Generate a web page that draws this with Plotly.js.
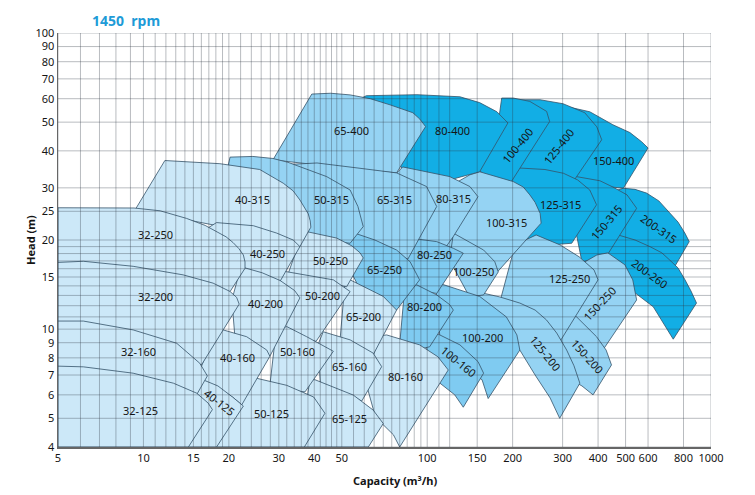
<!DOCTYPE html>
<html>
<head>
<meta charset="utf-8">
<script src="https://cdn.plot.ly/plotly-3.0.1.min.js"></script>
<style>
  body { margin: 0; background: #fff; }
  #chart { width: 755px; height: 495px; }
</style>
</head>
<body>
<div id="chart"></div>
<script>
// Pump ranges at 1450 rpm, outline points as [capacity m3/h, head m]
const r200_315 = [[448,29.1],[491,29.9],[540,29.65],[593,28.8],[655,27.1],[716,24.6],[765,23.0],[809,21.1],[838,19.75],[746,16.3],[660,17.8],[562,19.25],[459,20.0]];
const r200_260 = [[448,21.1],[471,20.8],[540,20.0],[609,19.0],[671,18.1],[716,17.1],[765,16.1],[809,14.7],[850,13.45],[889,12.25],[736,9.25],[626,11.9],[532,13.4],[478,14.1],[440,15.85],[427,18.5]];
const r150_400 = [[282,54.2],[301,56.8],[374,54.2],[451,49.0],[518,46.1],[547,44.2],[570,42.9],[600,40.9],[491,29.9],[406,30.5],[318,31.9]];
const r150_315 = [[306,32.4],[326,32.9],[406,31.7],[451,30.2],[506,28.4],[532,26.6],[547,25.6],[435,18.04],[406,17.4],[351,16.87]];
const r150_250 = [[345,16.5],[396,17.8],[433,18.1],[497,16.5],[530,14.67],[547,12.55],[420,8.62],[374,8.85],[318,9.2]];
const r150_200 = [[318,11.45],[336,11.0],[395,9.43],[427,8.5],[446,7.57],[384,6.0],[351,6.43],[326,6.69],[306,8.19],[293,9.56],[306,11.17]];
const r125_400 = [[187,57.7],[204,59.5],[250,59.5],[301,57.7],[359,53.8],[396,48.2],[412,43.6],[327,31.5],[260,32.4],[204,30.7]];
const r125_315 = [[196,33.2],[212,35.0],[260,34.6],[302,33.6],[339,31.9],[374,29.5],[395,26.3],[323,19.5],[271,19.25],[221,20.3],[204,27.3]];
const r125_250 = [[204,19.25],[242,20.8],[294,19.25],[343,17.55],[387,15.85],[400,14.67],[296,9.2],[260,10.35],[212,11.8],[180,12.27]];
const r125_200 = [[151,13.35],[158,13.2],[180,12.85],[212,12.25],[240,11.6],[263,10.75],[286,9.7],[310,8.5],[329,7.52],[345,6.57],[293,5.0],[271,5.86],[240,7.0],[212,8.5],[180,9.94],[153,11.6]];
const r100_400 = [[179,51.8],[183,60.3],[201,60.3],[230,58.75],[263.5,54.35],[270,50.25],[198,31.5],[166,32.2],[151,34.6]];
const r100_315 = [[128,31.45],[141.4,33.2],[153,34.0],[201,31.5],[218,30.2],[230,28.4],[240,26.8],[250,24.6],[252,22.8],[177,15.6],[173,15.25],[141,17.1],[111,18.5],[125,27.3]];
const r100_250 = [[123.6,21.1],[158,18.5],[173,16.9],[178,15.6],[158,13.05],[141,12.85],[120,17.1]];
const r100_200 = [[107,14.4],[111,14.25],[153,12.9],[190,11.0],[207,9.56],[212,8.5],[164,5.83],[156,6.75],[147,7.0],[111,9.2]];
const r100_160 = [[98,9.94],[102,9.94],[130.4,8.85],[151,7.77],[158,7.1],[134,5.45],[125,6.0],[111,6.57],[102,7.0]];
const r80_400 = [[57,59.5],[61,61.4],[92,61.9],[130.4,60.9],[153,58.2],[176,54.2],[192.5,49.7],[153,34.0],[120,31.9],[82,34.6]];
const r80_315 = [[77,33.2],[82,35.3],[120,32.75],[141.4,30.3],[151,28.0],[123.6,20.55],[115.5,18.75],[87,19.7],[79,23.4]];
const r80_250 = [[80,20.0],[87,20.3],[108,19.75],[123.6,18.75],[134,18.05],[108,13.2],[94,13.5],[87,14.67]];
const r80_200 = [[83.5,14.1],[92,14.1],[108,13.05],[120,12.1],[123.6,11.6],[102,8.72],[94,8.56],[80,8.9]];
const r80_160 = [[68,9.5],[72,9.56],[94,8.85],[109,8.07],[118.6,7.28],[80,4.0],[76,4.4],[69,4.82],[65.4,5.13],[60.4,6.75]];
const r65_400 = [[39.2,62.2],[45.7,62.6],[53.5,61.8],[63,60.0],[74,57.2],[82,55.3],[89,53.8],[94.2,51.2],[98.7,48.3],[78,33.7],[57,34.6],[28.6,37.3]];
const r65_315 = [[29,35.8],[40.9,36.4],[57,35.0],[78,33.7],[99.5,30.3],[108,25.95],[85.5,17.25],[77,17.8],[63,19.25],[53,20.0],[49.3,27.3]];
const r65_250 = [[51.4,21.0],[53.5,21.35],[65.4,20.0],[78,18.5],[87,16.9],[91.9,15.4],[94,14.67],[78,11.6],[67.7,12.55],[58,13.6],[51.4,17.1]];
const r65_200 = [[51.4,14.67],[53.5,14.67],[70,12.9],[78,11.6],[64.5,8.19],[57.8,8.5],[49.3,9.2]];
const r65_160 = [[41.2,8.85],[43,9.8],[53.5,9.2],[64.5,8.3],[69.1,7.47],[58.8,5.72],[53.5,5.99],[42,6.58]];
const r65_125 = [[38.6,6.75],[40.2,6.75],[54.9,5.99],[64.5,5.33],[70,4.8],[62,4.0],[35.6,4.0]];
const r50_315 = [[19.9,35.8],[20.2,38.1],[24.3,38.3],[28.6,37.7],[32.3,36.6],[44.2,32.75],[53.5,29.5],[57,25.95],[59.5,22.2],[53.5,19.5],[41.9,20.0],[32.3,20.8],[25.3,27.3]];
const r50_250 = [[35.6,20.0],[37.6,21.35],[48,20.3],[54.3,19.1],[58,18.1],[59.5,17.4],[52,13.9],[41.9,14.5],[32.3,15.3]];
const r50_200 = [[30.3,15.3],[31.1,15.7],[46.7,14.67],[53.5,13.4],[40.6,9.1],[35.6,9.2],[30.3,9.94]];
const r50_160 = [[30.8,10.1],[32,10.2],[37.6,9.43],[44.2,8.7],[46.7,8.42],[37.1,6.14],[32.3,6.23],[27.9,6.46],[29.1,9.2]];
const r50_125 = [[24.3,6.9],[25,6.83],[32,6.46],[39.8,5.9],[43.6,5.2],[36.9,4.0],[17.45,4.0]];
const r40_315 = [[11.9,37.1],[18.6,36.2],[25.7,34.6],[31.1,31.1],[33.7,29.3],[35.6,27.3],[38.1,24.5],[38.7,23.2],[38.9,22.1],[35.6,19.0],[27.9,20.65],[20.2,21.95],[9.35,25.3]];
const r40_250 = [[16.8,21.9],[18.1,22.9],[24.4,22.35],[29.5,21.1],[33.7,20.0],[35.6,19.0],[30.3,14.5],[26.8,15.15],[22.8,15.85],[19.4,17.1]];
const r40_200 = [[21.9,15.85],[22.8,16.1],[26.2,15.5],[30.3,14.6],[34.1,13.5],[35.6,12.75],[27.9,8.1],[24.7,8.85],[21.0,9.44],[20.5,12.55]];
const r40_160 = [[17.9,9.8],[19.1,9.94],[23.1,9.43],[27.2,8.5],[27.9,8.1],[22.2,5.55],[20.7,5.88],[18.3,6.33],[16.2,6.73],[15.8,7.25]];
const r40_125 = [[15.6,6.85],[16.3,6.73],[18.3,6.43],[20.6,5.9],[22.5,5.5],[18.1,4.0],[14.0,4.0],[14.8,6.0]];
const r32_250 = [[5,25.7],[7.03,25.7],[9.27,25.65],[11.45,25.1],[14.2,23.65],[16.5,22.4],[18.1,21.35],[19.55,20.5],[20.7,19.6],[21.7,18.7],[22.5,17.8],[22.8,16.87],[22.8,16.05],[20.2,13.4],[15.8,13.35],[5,13.4]];
const r32_200 = [[5,16.8],[6.14,16.95],[9.2,16.3],[13.8,15.25],[17.6,14.3],[20.2,13.4],[21.3,12.8],[21.75,12.15],[16.05,7.6],[15.1,7.55],[10.6,8.85],[5,8.85]];
const r32_160 = [[5,10.65],[6.14,10.65],[9.2,9.94],[13.1,8.96],[15.8,7.67],[16.8,6.95],[15.45,6.04],[10.6,6.23],[5,6.23]];
const r32_125 = [[5,7.5],[6.14,7.46],[9.2,7.1],[12.75,6.57],[15.4,6.08],[16.9,5.63],[17.5,5.35],[14.4,4.0],[5,4.0]];

// label text, position [capacity, head] and rotation
const labelNames = ['32-250','32-200','32-160','32-125','40-125','40-160','40-200','40-250','40-315',
  '50-125','50-160','50-200','50-250','50-315','65-125','65-160','65-200','65-250','65-315','65-400',
  '80-160','80-200','80-250','80-315','80-400','100-160','100-200','100-250','100-315','100-400',
  '125-200','125-250','125-315','125-400','150-200','150-250','150-315','150-400','200-260','200-315'];
const labelQ = [11,11,9.57,9.75,18.6,21.4,27.0,27.4,24.3, 28.2,34.9,42.6,45.5,46, 53.4,53.4,59.5,70.9,76.8,54,
  84,98,106.5,123.7,122.5, 129,157,145,191,208, 262,316,294,290, 368,405,427,454, 609,654];
const labelH = [20.8,12.85,8.4,5.3,5.65,8.0,12.2,18.0,27.3, 5.2,8.4,13.0,17.0,27.3, 5.0,7.5,11.0,15.85,27.3,46.8,
  6.9,11.9,17.8,27.7,46.7, 7.77,9.4,15.6,22.9,41.7, 8.3,14.8,26.3,41.4, 8.1,12.2,22.9,37, 15.4,21.8];
const labelAngle = [0,0,0,0,38,0,0,0,0, 0,0,0,0,0, 0,0,0,0,0,0, 0,0,0,0,0, 39,0,0,0,-51,
  51,0,0,-52, 48,-47,-50,0, 36,35];

// axis ticks and grid
const xTicks = [5,10,15,20,30,40,50,100,150,200,300,400,500,600,800,1000];
const yTicks = [4,5,6,7,8,9,10,15,20,25,30,40,50,60,70,80,90,100];
const xGrid = [5,6,7,8,9,10,11,12,13,14,15,16,17,18,19,20,22,24,26,28,30,32,34,36,38,40,42,44,46,48,50,
  55,60,65,70,75,80,85,90,95,100,110,120,150,200,300,400,500,600,800,1000];
const yGrid = [4,5,6,7,8,9,10,11,12,13,14,15,16,17,18,19,20,25,30,40,50,60,70,80,90,100];

const LIGHT = '#cce8f8', MID = '#95d3f3', MID2 = '#7fcbf1', DARK = '#12aee5';

// drawn right column first, top row first, so left/lower ranges overlap correctly
const order = [
  [r200_315, DARK], [r200_260, DARK],
  [r150_400, DARK], [r150_315, DARK], [r150_250, MID], [r150_200, MID],
  [r125_400, DARK], [r125_315, DARK], [r125_250, MID], [r125_200, MID],
  [r100_400, DARK], [r100_315, MID], [r100_250, MID], [r100_200, MID2], [r100_160, MID2],
  [r80_400, DARK], [r80_315, MID], [r80_250, MID2], [r80_200, MID2], [r80_160, LIGHT],
  [r65_400, MID], [r65_315, MID], [r65_250, MID2], [r65_200, LIGHT], [r65_160, LIGHT], [r65_125, LIGHT],
  [r50_315, MID], [r50_250, LIGHT], [r50_200, LIGHT], [r50_160, LIGHT], [r50_125, LIGHT],
  [r40_315, LIGHT], [r40_250, LIGHT], [r40_200, LIGHT], [r40_160, LIGHT], [r40_125, LIGHT],
  [r32_250, LIGHT], [r32_200, LIGHT], [r32_160, LIGHT], [r32_125, LIGHT]
];

const traces = order.map(([pts, color]) => ({
  x: pts.map(p => p[0]).concat([pts[0][0]]),
  y: pts.map(p => p[1]).concat([pts[0][1]]),
  type: 'scatter',
  mode: 'lines',
  fill: 'toself',
  fillcolor: color,
  line: { color: '#35536a', width: 0.8 },
  hoverinfo: 'skip',
  showlegend: false
}));

// grid lines on top of the filled ranges
const gx = [], gy = [];
xGrid.forEach(v => { gx.push(v, v, null); gy.push(4, 100, null); });
yGrid.forEach(v => { gx.push(5, 1000, null); gy.push(v, v, null); });
traces.push({
  x: gx, y: gy, type: 'scatter', mode: 'lines',
  line: { color: 'rgba(45,55,65,0.42)', width: 0.8 },
  hoverinfo: 'skip', showlegend: false, connectgaps: false
});

const FONT = 'Noto Sans, sans-serif';

const annotations = labelNames.map((t, i) => ({
  text: t,
  x: Math.log10(labelQ[i]),
  y: Math.log10(labelH[i]),
  xref: 'x', yref: 'y',
  xanchor: 'center', yanchor: 'middle',
  showarrow: false,
  textangle: labelAngle[i],
  font: { family: FONT, size: 11, color: '#151515' }
}));

annotations.push(
  { text: '<b>1450  rpm</b>', xref: 'paper', yref: 'paper', x: 0.104, y: 1.029,
    xanchor: 'center', yanchor: 'middle', showarrow: false,
    font: { family: FONT, size: 14, color: '#1e9bd7' } },
  { text: '<b>Head (m)</b>', xref: 'paper', yref: 'paper', x: -0.043, y: 0.5,
    xanchor: 'center', yanchor: 'middle', showarrow: false, textangle: -90,
    font: { family: FONT, size: 11, color: '#151515' } },
  { text: '<b>Capacity (m³/h)</b>', xref: 'paper', yref: 'paper', x: 0.516, y: -0.08,
    xanchor: 'center', yanchor: 'middle', showarrow: false,
    font: { family: FONT, size: 11, color: '#151515' } }
);

const layout = {
  width: 755,
  height: 495,
  margin: { l: 58, r: 44, t: 33, b: 48 },
  paper_bgcolor: '#ffffff',
  plot_bgcolor: '#ffffff',
  xaxis: {
    type: 'log',
    range: [Math.log10(5), 3],
    tickvals: xTicks,
    ticktext: xTicks.map(String),
    showgrid: false,
    zeroline: false,
    showline: true,
    linecolor: '#666',
    linewidth: 1.5,
    ticks: '',
    tickfont: { family: FONT, size: 11, color: '#151515' }
  },
  yaxis: {
    type: 'log',
    range: [Math.log10(4), 2],
    tickvals: yTicks,
    ticktext: yTicks.map(String),
    showgrid: false,
    zeroline: false,
    showline: true,
    linecolor: '#666',
    linewidth: 1.5,
    ticks: '',
    tickfont: { family: FONT, size: 11, color: '#151515' }
  },
  annotations: annotations
};

Plotly.newPlot('chart', traces, layout, { displayModeBar: false, staticPlot: true });
</script>
</body>
</html>
